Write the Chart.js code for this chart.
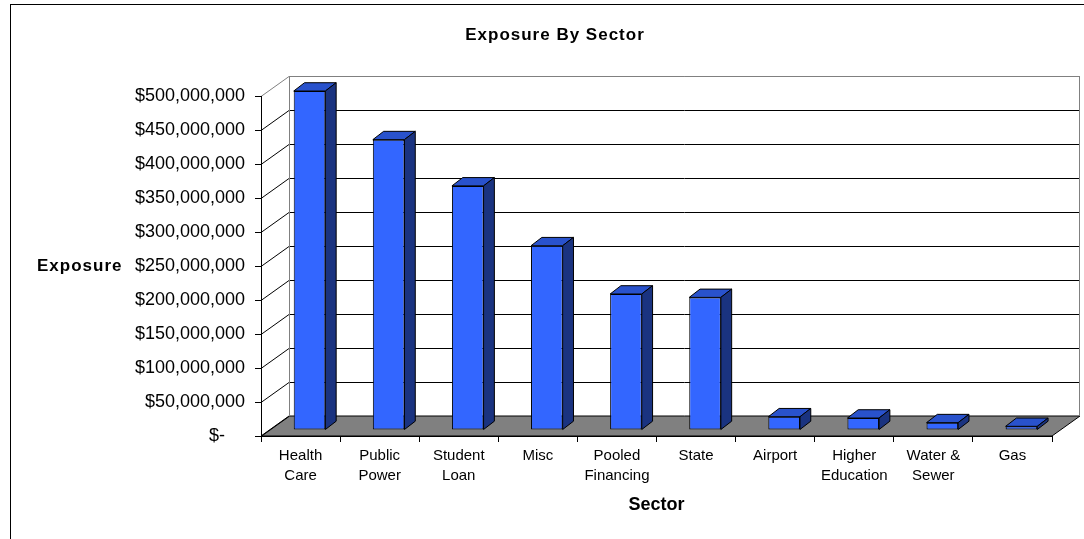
<!DOCTYPE html>
<html>
<head>
<meta charset="utf-8">
<script src="https://cdn.jsdelivr.net/npm/chart.js@4"></script>
<style>
body{margin:0;background:#fff}
</style>
</head>
<body>
<canvas id="myChart" width="1084" height="539"></canvas>
<script>
var sectors=[['Health','Care'],['Public','Power'],['Student','Loan'],'Misc',['Pooled','Financing'],'State','Airport',['Higher','Education'],['Water &','Sewer'],'Gas']
var exposure=[498500000,427000000,359000000,271000000,200000000,195000000,19500000,17600000,10800000,5400000]
var yTicks=[0,50000000,100000000,150000000,200000000,250000000,300000000,350000000,400000000,450000000,500000000]

var FONT='"Liberation Sans", Arial, sans-serif'
// depth of the back wall and of each bar
var wallDx=28, wallDy=-20
var barShiftX=9, barShiftY=-6
var barDx=10.8, barDy=-8.3

var walls={
 id:'walls',
 beforeDraw:function(chart){
  var ctx=chart.ctx, a=chart.chartArea, y=chart.scales.y
  ctx.save()
  // outer frame
  ctx.strokeStyle='#000'
  ctx.lineWidth=1
  ctx.strokeRect(10.5,4.5,1200,700)

  // floor
  var b=y.getPixelForValue(0)
  ctx.fillStyle='#808080'
  ctx.beginPath()
  ctx.moveTo(a.left,b)
  ctx.lineTo(a.right,b)
  ctx.lineTo(a.right+wallDx,b+wallDy)
  ctx.lineTo(a.left+wallDx,b+wallDy)
  ctx.closePath()
  ctx.fill()
  ctx.strokeStyle='#000'
  ctx.stroke()

  // gridlines on the back wall and the side
  yTicks.forEach(function(v){
   var py=Math.round(y.getPixelForValue(v))+0.5
   ctx.strokeStyle= v==yTicks[yTicks.length-1] ? '#808080' : '#000'
   ctx.beginPath()
   ctx.moveTo(a.left,py)
   ctx.lineTo(a.left+wallDx,py+wallDy)
   if(v>0){
    ctx.lineTo(a.right+wallDx,py+wallDy)
   }
   ctx.stroke()
  })

  // back wall frame
  var top=Math.round(y.getPixelForValue(yTicks[yTicks.length-1]))+0.5+wallDy
  ctx.strokeStyle='#808080'
  ctx.beginPath()
  ctx.moveTo(a.left+wallDx+0.5,b+wallDy)
  ctx.lineTo(a.left+wallDx+0.5,top)
  ctx.lineTo(a.right+wallDx-0.5,top)
  ctx.lineTo(a.right+wallDx-0.5,b+wallDy)
  ctx.stroke()

  // titles
  ctx.fillStyle='#000'
  ctx.font='bold 17px '+FONT
  ctx.letterSpacing='1px'
  ctx.textAlign='center'
  ctx.textBaseline='middle'
  ctx.fillText('Exposure By Sector',555,35)
  ctx.textAlign='left'
  ctx.fillText('Exposure',37,266)
  ctx.restore()
 },
 beforeDatasetsDraw:function(chart){
  chart.ctx.save()
  chart.ctx.translate(barShiftX,barShiftY)
 },
 afterDatasetsDraw:function(chart){
  var ctx=chart.ctx
  var bars=chart.getDatasetMeta(0).data
  ctx.strokeStyle='#000'
  ctx.lineWidth=1
  bars.forEach(function(bar){
   var p=bar.getProps(['x','y','base','width'],true)
   var l=p.x-p.width/2, r=p.x+p.width/2
   // top face
   ctx.fillStyle='#2952CC'
   ctx.beginPath()
   ctx.moveTo(l,p.y)
   ctx.lineTo(r,p.y)
   ctx.lineTo(r+barDx,p.y+barDy)
   ctx.lineTo(l+barDx,p.y+barDy)
   ctx.closePath()
   ctx.fill()
   ctx.stroke()
   // side face
   ctx.fillStyle='#1A3380'
   ctx.beginPath()
   ctx.moveTo(r,p.y)
   ctx.lineTo(r+barDx,p.y+barDy)
   ctx.lineTo(r+barDx,p.base+barDy)
   ctx.lineTo(r,p.base)
   ctx.closePath()
   ctx.fill()
   ctx.stroke()
  })
  ctx.restore()
 }
}

new Chart(document.getElementById('myChart'),{
 type:'bar',
 data:{
  labels:sectors,
  datasets:[{
   label:'Exposure',
   data:exposure,
   backgroundColor:'#3366FF',
   borderColor:'#000',
   borderWidth:1,
   borderSkipped:false,
   barPercentage:0.4,
   categoryPercentage:1
  }]
 },
 options:{
  responsive:false,
  animation:false,
  devicePixelRatio:1,
  layout:{padding:{left:10,right:32,top:96,bottom:0}},
  plugins:{legend:{display:false},tooltip:{enabled:false},title:{display:false}},
  scales:{
   x:{
    grid:{display:true,drawOnChartArea:false,offset:true,tickLength:6,color:'#000'},
    border:{display:true,color:'#000'},
    ticks:{font:{family:FONT,size:15,lineHeight:1.333},color:'#000',padding:4,maxRotation:0,autoSkip:false},
    title:{display:true,text:'Sector',font:{family:FONT,size:18,weight:'bold'},color:'#000',padding:{top:0,bottom:23}},
    afterFit:function(s){s.height=103}
   },
   y:{
    min:0,
    max:500000000,
    afterBuildTicks:function(s){s.ticks=yTicks.map(function(v){return {value:v}})},
    grid:{display:true,drawOnChartArea:false,tickLength:6,color:'#000'},
    border:{display:true,color:'#000'},
    ticks:{
     font:{family:FONT,size:18},
     color:'#000',
     padding:10,
     callback:function(v){return v==0 ? '$-    ' : '$'+v.toLocaleString('en-US')}
    },
    afterFit:function(s){s.width=251}
   }
  }
 },
 plugins:[walls]
})
</script>
</body>
</html>
